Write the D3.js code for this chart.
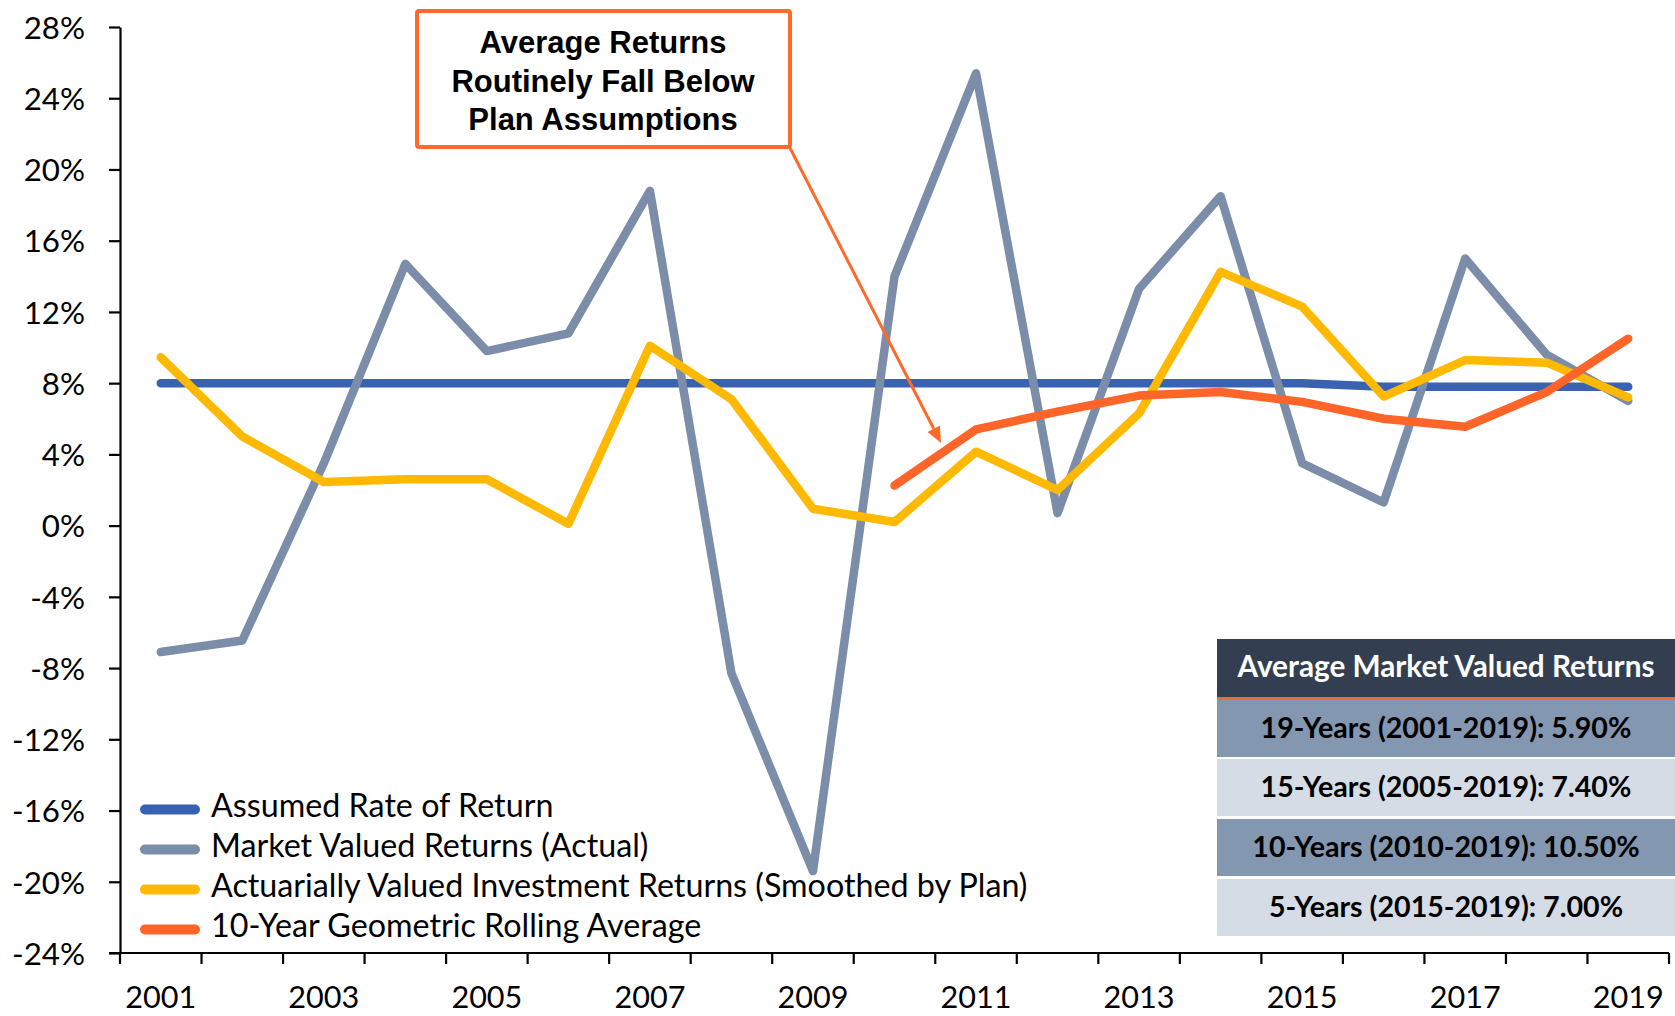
<!DOCTYPE html>
<html>
<head>
<meta charset="utf-8">
<script src="https://cdn.jsdelivr.net/npm/d3@7"></script>
<style>
  html, body { margin: 0; padding: 0; background: #fff; }
  svg { display: block; }
  text { font-family: Lato, "Open Sans", sans-serif; }
</style>
</head>
<body>
<svg id="chart" width="1675" height="1016"></svg>
<script>
// ---------------- data ----------------
const years = ["2001","2002","2003","2004","2005","2006","2007","2008","2009","2010",
               "2011","2012","2013","2014","2015","2016","2017","2018","2019"];
const assumedRate = [8,8,8,8,8,8,8,8,8,8,8,8,8,8,8,7.8,7.8,7.8,7.8];
const marketReturns = [-7.1,-6.45,3.5,14.7,9.8,10.8,18.8,-8.3,-19.4,14.0,25.4,0.7,13.3,18.5,3.5,1.3,15.0,9.6,7.0];
const actuarialReturns = [9.45,5.0,2.45,2.6,2.6,0.1,10.1,7.1,0.95,0.2,4.15,2.0,6.3,14.25,12.3,7.25,9.3,9.15,7.2];
const rollingAverage = [null,null,null,null,null,null,null,null,null,2.25,5.4,6.4,7.3,7.5,6.95,6.0,5.55,7.5,10.5];
const yTicks = [-24,-20,-16,-12,-8,-4,0,4,8,12,16,20,24,28];
const xLabelYears = ["2001","2003","2005","2007","2009","2011","2013","2015","2017","2019"];
const seriesNames = ["Assumed Rate of Return","Market Valued Returns (Actual)",
                     "Actuarially Valued Investment Returns (Smoothed by Plan)","10-Year Geometric Rolling Average"];
const annotationLines = ["Average Returns","Routinely Fall Below","Plan Assumptions"];
const tableHeader = "Average Market Valued Returns";
const tableRows = ["19-Years (2001-2019): 5.90%","15-Years (2005-2019): 7.40%",
                   "10-Years (2010-2019): 10.50%","5-Years (2015-2019): 7.00%"];

// ---------------- styles ----------------
const colors = ["#3A62B3","#7B8DA8","#FFB900","#FF6428"];
const series = [assumedRate, marketReturns, actuarialReturns, rollingAverage];

const svg = d3.select("#chart");
const plotLeft = 120, plotRight = 1669, plotTop = 27, plotBottom = 953;

const x = d3.scaleBand().domain(years).range([plotLeft, plotRight]).padding(0);
const y = d3.scaleLinear().domain([-24, 28]).range([plotBottom, plotTop]);

function fitSize(sel, target, base) {
  sel.style("font-size", base + "px");
  const len = sel.node().getComputedTextLength();
  const s = base * target / len;
  sel.style("font-size", s + "px");
  return s;
}

// ---------------- y axis ----------------
const yAxisG = svg.append("g").attr("transform", `translate(${plotLeft},0)`)
  .call(d3.axisLeft(y).tickValues(yTicks).tickFormat(d => d + "%").tickSize(11).tickSizeOuter(0));
yAxisG.select(".domain").attr("stroke", "#000").attr("stroke-width", 2.2);
yAxisG.selectAll(".tick line").attr("stroke", "#000").attr("stroke-width", 2.2);
const probeY = svg.append("text").text("-24%");
const yFont = fitSize(probeY, 73, 30); probeY.remove();
yAxisG.selectAll(".tick text")
  .attr("x", -35).attr("dy", null).attr("y", yFont * 0.36)
  .attr("fill", "#000").style("font-size", yFont + "px")
  .style("font-family", "Lato, 'Open Sans', sans-serif");

// ---------------- x axis ----------------
const xAxisG = svg.append("g").attr("transform", `translate(0,${plotBottom})`);
xAxisG.append("line").attr("x1", plotLeft - 11).attr("x2", plotRight).attr("y1", 0).attr("y2", 0)
  .attr("stroke", "#000").attr("stroke-width", 2.2);
const boundaries = years.map(d => x(d)).concat([x.range()[1]]);
xAxisG.selectAll("line.tk").data(boundaries).join("line").attr("class", "tk")
  .attr("x1", d => d).attr("x2", d => d).attr("y1", 0).attr("y2", 11)
  .attr("stroke", "#000").attr("stroke-width", 2.2);
const probeX = svg.append("text").text("2001");
const xFont = fitSize(probeX, 71, 30); probeX.remove();
xAxisG.selectAll("text.xl").data(xLabelYears).join("text").attr("class", "xl")
  .attr("x", d => x(d) + x.bandwidth() / 2).attr("y", 55)
  .attr("text-anchor", "middle").attr("fill", "#000").style("font-size", xFont + "px")
  .text(d => d);

// ---------------- lines ----------------
series.forEach((vals, i) => {
  const pts = years.map((yr, j) => ({ yr, v: vals[j] }));
  const line = d3.line()
    .defined(d => d.v !== null)
    .x(d => x(d.yr) + x.bandwidth() / 2)
    .y(d => y(d.v));
  svg.append("path").datum(pts)
    .attr("d", line)
    .attr("fill", "none")
    .attr("stroke", colors[i])
    .attr("stroke-width", 8.5)
    .attr("stroke-linecap", "round")
    .attr("stroke-linejoin", "round");
});

// ---------------- legend ----------------
const legend = svg.append("g");
const probeL = svg.append("text").text(seriesNames[2]);
const lFont = fitSize(probeL, 817, 26); probeL.remove();
const legendBase = [817, 857, 897, 937];
seriesNames.forEach((name, i) => {
  legend.append("line")
    .attr("x1", 145).attr("x2", 195)
    .attr("y1", legendBase[i] - 7.5).attr("y2", legendBase[i] - 7.5)
    .attr("stroke", colors[i]).attr("stroke-width", 10).attr("stroke-linecap", "round");
  legend.append("text").attr("x", 211).attr("y", legendBase[i])
    .attr("fill", "#000").style("font-size", lFont + "px").text(name);
});

// ---------------- annotation ----------------
const ann = svg.append("g");
ann.append("rect").attr("x", 417).attr("y", 11).attr("width", 373).attr("height", 136)
  .attr("rx", 2).attr("fill", "#fff").attr("stroke", "#FF6A2B").attr("stroke-width", 4);
annotationLines.forEach((t, i) => {
  ann.append("text").attr("x", 603).attr("y", 53 + i * 38.5)
    .attr("text-anchor", "middle")
    .style("font-family", "'Liberation Sans', Arial, sans-serif")
    .style("font-weight", "bold").style("font-size", "31px")
    .attr("fill", "#000").text(t);
});
const ax0 = 790, ay0 = 148, ax1 = 941, ay1 = 443;
const ang = Math.atan2(ay1 - ay0, ax1 - ax0);
const hl = 16, hw = 7;
const bx = ax1 - hl * Math.cos(ang), by = ay1 - hl * Math.sin(ang);
ann.append("line").attr("x1", ax0).attr("y1", ay0).attr("x2", bx).attr("y2", by)
  .attr("stroke", "#FF6A2B").attr("stroke-width", 3);
ann.append("path")
  .attr("d", `M${ax1},${ay1} L${bx - hw * Math.sin(ang)},${by + hw * Math.cos(ang)} L${bx + hw * Math.sin(ang)},${by - hw * Math.cos(ang)} Z`)
  .attr("fill", "#FF6A2B");

// ---------------- table ----------------
const tbl = svg.append("g");
const tx = 1217, tw = 1675 - 1217, tcx = 1446;
tbl.append("rect").attr("x", tx).attr("y", 639).attr("width", tw).attr("height", 58).attr("fill", "#333F50");
tbl.append("rect").attr("x", tx).attr("y", 697).attr("width", tw).attr("height", 3).attr("fill", "#F26B2B");
const rowTops = [700, 759, 819, 879];
const rowFills = ["#8497B0", "#D6DCE5", "#8497B0", "#D6DCE5"];
rowTops.forEach((t, i) => {
  tbl.append("rect").attr("x", tx).attr("y", t).attr("width", tw).attr("height", 57).attr("fill", rowFills[i]);
});
const hdr = tbl.append("text").attr("x", tcx).attr("y", 677).attr("text-anchor", "middle")
  .attr("fill", "#fff").style("font-weight", "bold").text(tableHeader);
fitSize(hdr, 417, 28);
const probeR = svg.append("text").style("font-weight", "bold").text(tableRows[0]);
const rFont = fitSize(probeR, 371, 28); probeR.remove();
const rowBase = [738, 797, 857, 917];
tableRows.forEach((t, i) => {
  tbl.append("text").attr("x", tcx).attr("y", rowBase[i]).attr("text-anchor", "middle")
    .attr("fill", "#000").style("font-weight", "bold").style("font-size", rFont + "px").text(t);
});
</script>
</body>
</html>
